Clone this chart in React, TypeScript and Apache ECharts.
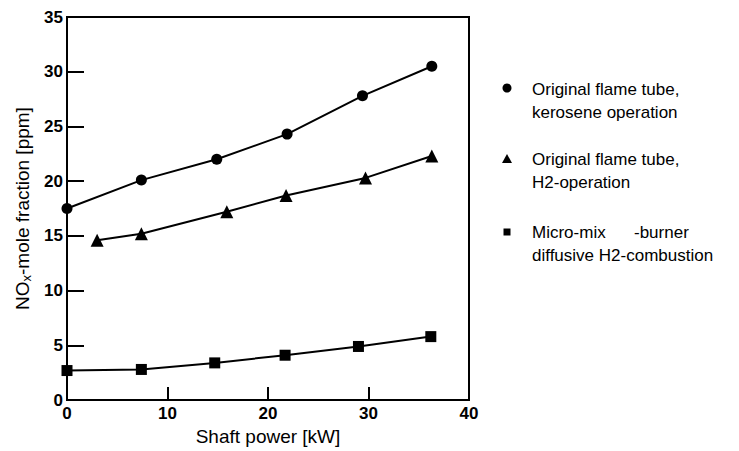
import React, { useEffect, useRef } from "react";
import * as echarts from "echarts";

// Shaft power [kW] and NOx mole fraction [ppm] for each configuration
const keroPower = [0, 7.4, 14.9, 21.9, 29.4, 36.3];
const keroNox = [17.5, 20.1, 22.0, 24.3, 27.8, 30.5];

const h2Power = [3.0, 7.4, 15.9, 21.8, 29.7, 36.3];
const h2Nox = [14.6, 15.2, 17.2, 18.7, 20.3, 22.3];

const microPower = [0, 7.4, 14.7, 21.7, 29.0, 36.2];
const microNox = [2.7, 2.8, 3.4, 4.1, 4.9, 5.8];

const seriesNames = [
  "Original flame tube,\nkerosene operation",
  "Original flame tube,\nH2-operation",
  "Micro-mix      -burner\ndiffusive H2-combustion",
];

const FONT = "Liberation Sans, Arial, Helvetica, sans-serif";

const pair = (xs: number[], ys: number[]) => xs.map((x, i) => [x, ys[i]]);

export default function App() {
  const ref = useRef<HTMLDivElement>(null);

  useEffect(() => {
    if (!ref.current) return;
    const chart = echarts.init(ref.current, undefined, { renderer: "svg" });

    const lineSeries = (name: string, data: number[][], symbol: string, size: number) => ({
      name,
      type: "line",
      data,
      symbol,
      symbolSize: size,
      showSymbol: true,
      lineStyle: { color: "#000", width: 2 },
      itemStyle: { color: "#000" },
      z: 3,
    });

    const legendText = (y: number, text: string) => ({
      type: "text",
      x: 532,
      y,
      style: {
        text,
        fill: "#000",
        font: `17px ${FONT}`,
        lineHeight: 23,
        align: "left",
        verticalAlign: "top",
      },
    });

    chart.setOption({
      animation: false,
      backgroundColor: "#fff",
      grid: {
        left: 67,
        right: 270,
        top: 17,
        bottom: 49,
        show: true,
        borderColor: "#000",
        borderWidth: 2,
        backgroundColor: "transparent",
      },
      xAxis: {
        type: "value",
        min: 0,
        max: 40,
        interval: 10,
        name: "Shaft power [kW]",
        nameLocation: "middle",
        nameGap: 22,
        nameTextStyle: { fontFamily: FONT, fontSize: 19, color: "#000" },
        axisLine: { show: true, lineStyle: { color: "#000", width: 2 } },
        axisTick: { show: true, inside: true, length: 13, lineStyle: { color: "#000", width: 2 } },
        axisLabel: { margin: 5, fontFamily: FONT, fontSize: 17, fontWeight: "bold", color: "#000" },
        splitLine: { show: false },
      },
      yAxis: {
        type: "value",
        min: 0,
        max: 35,
        interval: 5,
        name: "{a|NO}{s|x}{a|-mole fraction [ppm]}",
        nameLocation: "middle",
        nameGap: 27,
        nameTextStyle: {
          fontFamily: FONT,
          color: "#000",
          rich: {
            a: { fontFamily: FONT, fontSize: 19, color: "#000", lineHeight: 22, verticalAlign: "middle" },
            s: { fontFamily: FONT, fontSize: 13, color: "#000", lineHeight: 22, verticalAlign: "bottom", padding: [6, 0, 0, 0] },
          },
        },
        axisLine: { show: true, lineStyle: { color: "#000", width: 2 } },
        axisTick: { show: true, inside: true, length: 17, lineStyle: { color: "#000", width: 2 } },
        axisLabel: { margin: 4, fontFamily: FONT, fontSize: 17, fontWeight: "bold", color: "#000" },
        splitLine: { show: false },
      },
      series: [
        lineSeries(seriesNames[0], pair(keroPower, keroNox), "circle", 11),
        lineSeries(seriesNames[1], pair(h2Power, h2Nox), "triangle", 13),
        lineSeries(seriesNames[2], pair(microPower, microNox), "rect", 11),
      ],
      graphic: [
        { type: "circle", shape: { cx: 507, cy: 88, r: 4.5 }, style: { fill: "#000" } },
        legendText(78, seriesNames[0]),
        {
          type: "polygon",
          shape: { points: [[507, 154], [502, 163], [512, 163]] },
          style: { fill: "#000" },
        },
        legendText(148, seriesNames[1]),
        { type: "rect", shape: { x: 503.5, y: 228.5, width: 7, height: 7 }, style: { fill: "#000" } },
        legendText(221, seriesNames[2]),
      ],
    });

    return () => chart.dispose();
  }, []);

  return (
    <div
      ref={ref}
      style={{ position: "fixed", left: 0, top: 0, width: 739, height: 451, background: "#fff" }}
    />
  );
}
